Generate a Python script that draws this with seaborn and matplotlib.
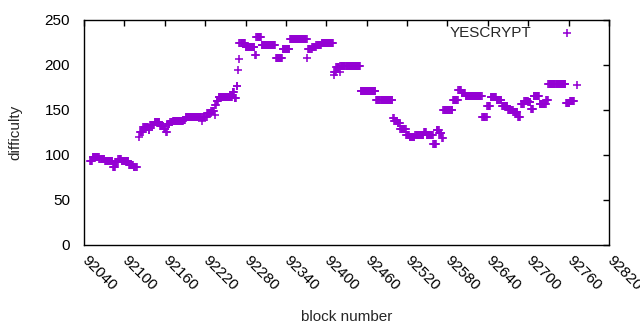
import numpy as np
import pandas as pd
import matplotlib
matplotlib.use("Agg")
import matplotlib.pyplot as plt
import matplotlib.transforms as mtransforms
import seaborn as sns

run_first = [92049, 92053, 92063, 92071, 92083, 92087, 92091, 92096, 92107, 92114,
             92122, 92123, 92128, 92136, 92138, 92145, 92153, 92159, 92162, 92164,
             92168, 92172, 92188, 92191, 92216, 92217, 92223, 92229, 92234, 92235,
             92237, 92240, 92261, 92264, 92267, 92269, 92270, 92271, 92280, 92294,
             92296, 92304, 92325, 92335, 92346, 92372, 92373, 92379, 92385, 92393,
             92411, 92412, 92415, 92420, 92421, 92451, 92474, 92499, 92501, 92506,
             92510, 92519, 92524, 92532, 92545, 92549, 92559, 92564, 92568, 92572,
             92574, 92588, 92596, 92601, 92607, 92632, 92639, 92644, 92653, 92661,
             92670, 92678, 92685, 92689, 92694, 92700, 92704, 92708, 92717, 92727,
             92730, 92756, 92762, 92772]
run_last = [92052, 92062, 92070, 92082, 92086, 92090, 92095, 92106, 92113, 92118,
            92122, 92127, 92135, 92137, 92144, 92152, 92158, 92161, 92163, 92167,
            92171, 92187, 92190, 92215, 92216, 92222, 92228, 92233, 92234, 92236,
            92239, 92260, 92263, 92266, 92268, 92269, 92270, 92279, 92293, 92295,
            92303, 92324, 92334, 92345, 92371, 92372, 92378, 92384, 92392, 92410,
            92411, 92414, 92419, 92420, 92450, 92473, 92498, 92500, 92505, 92509,
            92518, 92523, 92531, 92544, 92548, 92558, 92563, 92567, 92571, 92573,
            92587, 92595, 92600, 92606, 92631, 92638, 92643, 92652, 92660, 92669,
            92677, 92684, 92688, 92693, 92699, 92703, 92707, 92716, 92726, 92729,
            92755, 92761, 92768, 92772]
run_diff = [93, 98, 95, 93, 87, 92, 95, 93, 89, 86,
            120, 125, 131, 128, 133, 136, 132, 129, 125, 134,
            136, 138, 139, 142, 137, 142, 146, 149, 144, 155,
            160, 164, 170, 163, 176, 194, 206, 224, 219, 211,
            231, 222, 207, 217, 228, 207, 217, 220, 222, 224,
            188, 192, 197, 192, 199, 171, 161, 141, 138, 135,
            129, 122, 120, 122, 125, 122, 112, 127, 124, 119,
            150, 161, 172, 169, 165, 142, 154, 164, 161, 154,
            150, 147, 142, 156, 160, 158, 151, 165, 156, 161,
            178, 157, 160, 177]

x_ticks = list(range(92040, 92821, 60))
y_ticks = [0, 50, 100, 150, 200, 250]

blocks, diffs = [], []
for a, b, d in zip(run_first, run_last, run_diff):
    for blk in range(a, b + 1):
        blocks.append(blk)
        diffs.append(d)
df = pd.DataFrame({"block number": blocks, "difficulty": diffs})

sns.set_theme(style="white")
plt.rcParams["font.family"] = ["Liberation Sans", "DejaVu Sans"]
plt.rcParams["font.size"] = 11

fig, ax = plt.subplots(figsize=(6.4, 3.3), dpi=100)
fig.subplots_adjust(left=84 / 640, right=609 / 640, bottom=1 - 245 / 330, top=1 - 19.5 / 330)

sns.scatterplot(data=df, x="block number", y="difficulty", marker="+", color="#9400D3",
                s=32, linewidth=1.15, label="YESCRYPT", ax=ax)

ax.set_xlim(92040, 92820)
ax.set_ylim(0, 250)
ax.set_xticks(x_ticks)
ax.set_yticks(y_ticks)
ax.set_xticklabels([str(t) for t in x_ticks], rotation=-45, ha="left", va="top",
                   rotation_mode="anchor")
ax.tick_params(direction="in", length=4, width=1, top=True, right=True,
               labelsize=11, colors="black")
ax.tick_params(axis="x", pad=6)
ax.tick_params(axis="y", pad=10)

# nudge rotated x labels to the right like the reference
shift = mtransforms.ScaledTranslation(5 / 100, 0, fig.dpi_scale_trans)
for lbl in ax.get_xticklabels():
    lbl.set_transform(lbl.get_transform() + shift)

for sp in ax.spines.values():
    sp.set_color("black")
    sp.set_linewidth(1)
ax.set_xlabel("block number", fontsize=11, labelpad=12)
ax.set_ylabel("difficulty", fontsize=11, labelpad=16)

ax.legend(loc="upper right", bbox_to_anchor=(0.96, 0.998), frameon=False, markerfirst=False,
          handletextpad=1.3, borderaxespad=0, fontsize=11)

fig.savefig("out.png", dpi=100)
